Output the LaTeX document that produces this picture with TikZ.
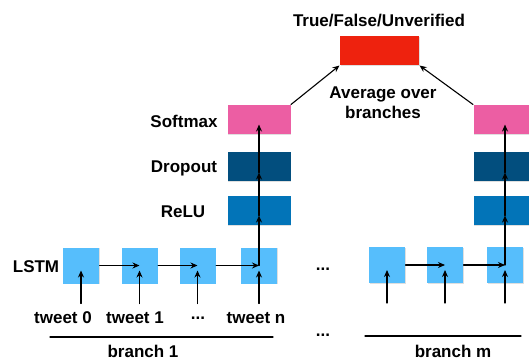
\documentclass[tikz,border=0pt]{standalone}
\usepackage{fontspec}
\setmainfont{Liberation Sans}
\usetikzlibrary{arrows.meta,shadows,calc}
\definecolor{outred}{RGB}{238,34,14}
\definecolor{softpink}{RGB}{236,94,163}
\definecolor{dropnavy}{RGB}{2,78,126}
\definecolor{relublue}{RGB}{2,116,184}
\definecolor{lstmblue}{RGB}{86,190,252}
\newcommand\tdots{...}
\tikzset{
  layer/.style={fill=#1,minimum width=63pt,minimum height=29pt,inner sep=0pt,
    drop shadow={shadow xshift=.8pt,shadow yshift=-.8pt,opacity=.25}},
  cell/.style={fill=lstmblue,minimum width=36pt,minimum height=36pt,inner sep=0pt,
    drop shadow={shadow xshift=.8pt,shadow yshift=-.8pt,opacity=.25}},
}
\begin{document}
\begin{tikzpicture}[x=1pt,y=-1pt,line width=1.1pt,line cap=round,
  >={Stealth[length=7pt,width=6pt]},font=\fontsize{17}{20}\selectfont\bfseries]
	\clip (0,0) rectangle (529,361);
	% output
	\node[layer=outred,minimum width=79pt] (out) at (379.5,50.5) {};
	\node (res) at (379,21) {True/False/Unverified};
	\node[align=center] (avg) at (383,103) {Average over\\branches};
	% dense layers of both branches
	\foreach \n/\x in {a/259,b/505}{
		\node[layer=relublue] (relu\n) at (\x,210.5) {};
		\node[layer=dropnavy] (drop\n) at (\x,166.5) {};
		\node[layer=softpink] (soft\n) at (\x,119.5) {};
		\draw[->] ($(relu\n.south)+(0,-10)$)--($(drop\n.south)+(0,-9)$);
		\draw[->] ($(drop\n.south)+(0,-9)$)--($(soft\n.south)+(0,-10)$);
	}
	\draw[->] (softa.north east)--(out.south west);
	\draw[->] (softb.north west)--(out.south east);
	\node (lsoft) at (184,121) {Softmax};
	\node (ldrop) at (184,168) {Dropout};
	\node (lrelu) at (183,212) {ReLU};
	\node (llstm) at (36,267) {LSTM};
	% lstm cells
	\foreach \i/\x in {1/81,2/139.5,3/197.5,4/259}{\node[cell] (a\i) at (\x,265.5) {};}
	\foreach \i/\x in {1/387,2/445,3/505}{\node[cell] (b\i) at (\x,265) {};}
	\foreach \p/\q in {a1/a2,a2/a3,a3/a4,b1/b2,b2/b3}{\draw[->] (\p.east)--(\q.center);}
	\foreach \c in {a1,a2,a3,a4,b1,b2,b3}{\draw[->] ($(\c.center)+(0,38)$)--($(\c.center)+(0,5)$);}
	\draw[->] (a4.center)--($(relua.south)+(0,-10)$);
	\draw[->] (b3.center)--($(relub.south)+(0,-10)$);
	% inputs
	\foreach \t/\x [count=\i] in {tweet 0/63,tweet 1/135,\tdots/198,tweet n/256}{\node (tw\i) at (\x,318) {\t};}
	\node (gap1) at (323,269) {\tdots};
	\node (gap2) at (323,335) {\tdots};
	% branches
	\draw (50,337)--(273,337);
	\node[anchor=base] (br1) at (143,357) {branch 1};
	\draw (365,336)--(521,336);
	\node[anchor=base] (brm) at (453,357) {branch m};
\end{tikzpicture}
\end{document}
